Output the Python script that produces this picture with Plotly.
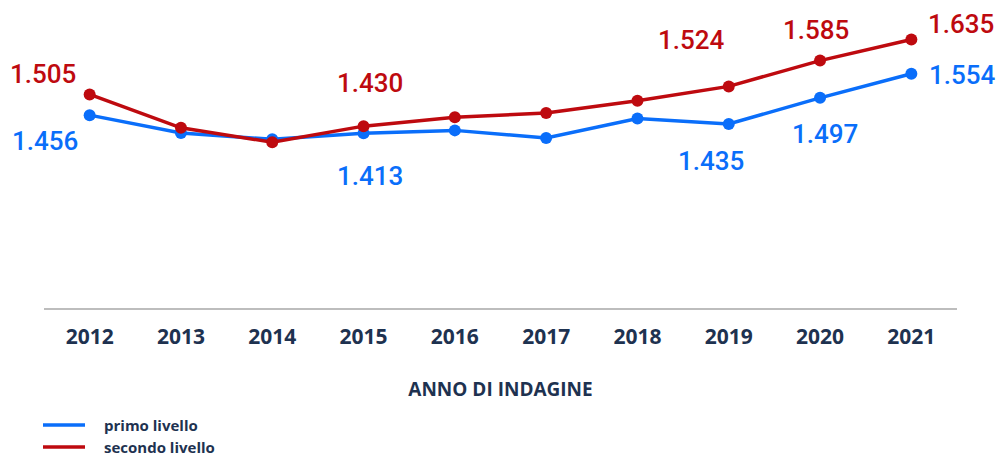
import plotly.graph_objects as go

years = [2012, 2013, 2014, 2015, 2016, 2017, 2018, 2019, 2020, 2021]
primo = [1.456, 1.414, 1.399, 1.413, 1.420, 1.402, 1.448, 1.435, 1.497, 1.554]
secondo = [1.505, 1.426, 1.392, 1.430, 1.451, 1.461, 1.490, 1.524, 1.585, 1.635]
series_names = ["primo livello", "secondo livello"]

# which points carry a value label, and where the label sits (px offsets)
primo_labels = {2012: (-45, -26), 2015: (6, -43), 2019: (-18, -37), 2020: (5, -36), 2021: (51, -1)}
secondo_labels = {2012: (-47, 20), 2015: (6, 43), 2019: (-37, 46), 2020: (-4, 31), 2021: (50, 15)}

BLUE = "#0A6EFA"
RED = "#BE0A0F"
NAVY = "#1E3250"

W, H = 998, 456
ML, MR, MT, MB = 44, 41, 20, 148
PW, PH = W - ML - MR, H - MT - MB

fig = go.Figure()
for vals, name, color in [(primo, series_names[0], BLUE), (secondo, series_names[1], RED)]:
    fig.add_trace(go.Scatter(
        x=years, y=vals, name=name, mode="lines+markers", showlegend=False,
        line=dict(color=color, width=3.5), marker=dict(size=12, color=color),
    ))


def fmt(v):
    return f"{v:.3f}"


for series, labels, color in [(primo, primo_labels, BLUE), (secondo, secondo_labels, RED)]:
    for yr, (dx, dy) in labels.items():
        v = series[years.index(yr)]
        fig.add_annotation(
            x=yr, y=v, text=fmt(v), showarrow=False,
            xshift=dx, yshift=dy,
            font=dict(family="Roboto", size=26, color=color, weight=500),
        )

# hand-made legend below the axis (lines only, like the original)
for i, (name, color) in enumerate(zip(series_names, [BLUE, RED])):
    py = 425 + 22 * i
    yp = (MT + PH - py) / PH
    fig.add_shape(
        type="line", xref="paper", yref="paper",
        x0=(43 - ML) / PW, x1=(85 - ML) / PW, y0=yp, y1=yp,
        line=dict(color=color, width=3.5),
    )
    fig.add_annotation(
        xref="paper", yref="paper", x=(102 - ML) / PW, y=yp,
        xanchor="left", yanchor="middle", text=name, showarrow=False,
        font=dict(family="Open Sans", size=15, color=NAVY, weight="bold"),
    )

fig.update_layout(
    width=W,
    height=H,
    margin=dict(l=ML, r=MR, t=MT, b=MB),
    paper_bgcolor="white",
    plot_bgcolor="white",
    showlegend=False,
)
fig.update_xaxes(
    range=[2011.5, 2021.5],
    tickvals=years,
    ticktext=[str(y) for y in years],
    showgrid=False,
    zeroline=False,
    showline=True,
    linecolor="#BDBDBD",
    linewidth=2,
    ticks="outside",
    ticklen=9,
    tickcolor="rgba(0,0,0,0)",
    tickfont=dict(family="Open Sans", size=21, color=NAVY, weight="bold"),
    title=dict(
        text="ANNO DI INDAGINE",
        font=dict(family="Open Sans", size=19, color=NAVY, weight="bold"),
        standoff=33,
    ),
)
fig.update_yaxes(
    range=[1.0, 1.681],
    visible=False,
    showgrid=False,
)

# drop the page's default body margin so the figure fills the window
fig.write_html(
    "out.html",
    config={"displayModeBar": False},
    post_script="document.body.style.margin='0';document.body.style.overflow='hidden';",
)
